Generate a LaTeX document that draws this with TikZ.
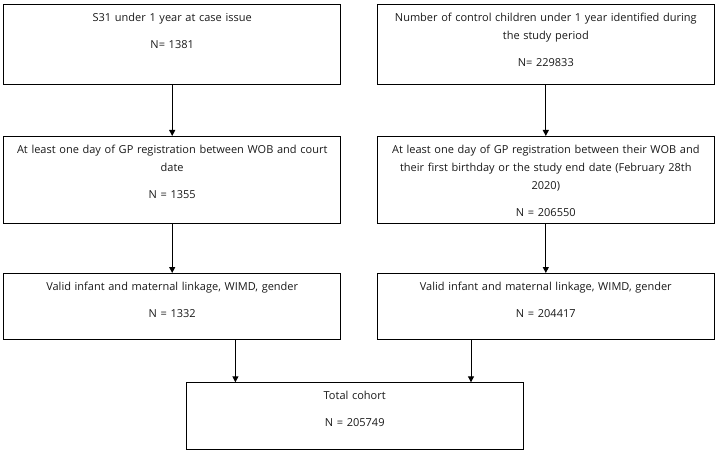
\documentclass[tikz,border=0pt]{standalone}
\usepackage{fontspec}
\setmainfont{Open Sans}
\usetikzlibrary{arrows.meta}

\begin{document}
\begin{tikzpicture}[x=1pt,y=-1pt,
  stage/.style={draw, line width=1pt, anchor=north, text width=337pt, align=center,
    inner xsep=0pt, inner ysep=0pt, text height=17pt, font=\fontsize{11}{18}\selectfont, text=black!90},
  arr/.style={-{Triangle[width=6pt,length=6pt]}, line width=1pt}]
\useasboundingbox (0,0) rectangle (719,454);
\node [stage, text depth=63pt] (a1) at (172.2,4) {S31 under 1 year at case issue\\[9pt] N= 1381};
\node [stage, text depth=70pt] (a2) at (172.2,136) {At least one day of GP registration between WOB and court\\ date\\[9pt] N = 1355};
\node [stage, text depth=49pt] (a3) at (172.2,273) {Valid infant and maternal linkage, WIMD, gender\\[9pt] N = 1332};
\node [stage, text depth=63pt] (b1) at (545.8,4) {Number of control children under 1 year identified during\\ the study period\\[9pt] N= 229833};
\node [stage, text depth=70pt] (b2) at (545.8,136) {At least one day of GP registration between their WOB and\\ their first birthday or the study end date (February 28th\\ 2020)\\[9pt] N = 206550};
\node [stage, text depth=49pt] (b3) at (545.8,273) {Valid infant and maternal linkage, WIMD, gender\\[9pt] N = 204417};
\node [stage, text depth=50pt] (tot) at (354.7,382.3) {Total cohort\\[9pt] N = 205749};
\coordinate (tl) at ([xshift=49.7pt]tot.north west);
\coordinate (tr) at ([xshift=285.3pt]tot.north west);
\draw [arr] (a1) -- (a2);
\draw [arr] (a2) -- (a3);
\draw [arr] (b1) -- (b2);
\draw [arr] (b2) -- (b3);
\draw [arr] (a3.south -| tl) -- (tl);
\draw [arr] (b3.south -| tr) -- (tr);
\end{tikzpicture}
\end{document}
